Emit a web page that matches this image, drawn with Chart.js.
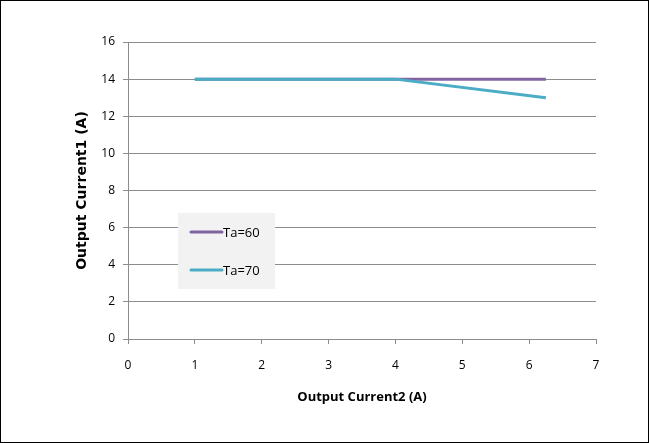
<!DOCTYPE html>
<html>
<head>
<meta charset="utf-8">
<script src="https://cdn.jsdelivr.net/npm/chart.js@4.4.1/dist/chart.umd.min.js"></script>
<style>
	body { margin: 0; background: #fff; }
	#wrap { width: 647px; height: 441px; border: 1px solid #000; position: relative; }
</style>
</head>
<body>
<div id="wrap"><canvas id="currentChart"></canvas></div>
<script>
// values
const xTa60 = [1, 4, 6.25];
const yTa60 = [14, 14, 14];
const xTa70 = [1, 4, 6.25];
const yTa70 = [14, 14, 13];
const seriesLabels = ['Ta=60', 'Ta=70'];
const seriesColors = ['#8064A2', '#4BACC6'];

const fontFamily = "'Open Sans', 'Liberation Sans', sans-serif";
const gridColor = '#8c8c8c';

function toPoints(xs, ys) {
	return xs.map((x, i) => ({ x: x, y: ys[i] }));
}

// legend box sits inside the plot area like the original
const insideLegend = {
	id: 'insideLegend',
	afterDraw(chart) {
		const ctx = chart.ctx;
		const area = chart.chartArea;
		const left = area.left + 50;
		const top = area.top + 171;
		ctx.save();
		ctx.fillStyle = '#f2f2f2';
		ctx.fillRect(left, top, 97, 76);
		ctx.font = '13px ' + fontFamily;
		ctx.textBaseline = 'middle';
		chart.data.datasets.forEach((ds, i) => {
			const y = top + 19 + i * 38;
			ctx.strokeStyle = ds.borderColor;
			ctx.lineWidth = 3;
			ctx.lineCap = 'round';
			ctx.beginPath();
			ctx.moveTo(left + 13, y);
			ctx.lineTo(left + 44, y);
			ctx.stroke();
			ctx.fillStyle = '#000';
			ctx.fillText(ds.label, left + 45, y + 1);
		});
		ctx.restore();
	}
};

const ctx = document.getElementById('currentChart').getContext('2d');
const myChart = new Chart(ctx, {
	type: 'scatter',
	data: {
		datasets: [
			{
				label: seriesLabels[0],
				data: toPoints(xTa60, yTa60),
				showLine: true,
				borderColor: seriesColors[0],
				backgroundColor: seriesColors[0],
				borderWidth: 3,
				pointRadius: 0,
				order: 1
			},
			{
				label: seriesLabels[1],
				data: toPoints(xTa70, yTa70),
				showLine: true,
				borderColor: seriesColors[1],
				backgroundColor: seriesColors[1],
				borderWidth: 3,
				pointRadius: 0,
				order: 0
			}
		]
	},
	options: {
		responsive: true,
		maintainAspectRatio: false,
		animation: false,
		layout: {
			padding: { left: 69, top: 41, right: 52, bottom: 33 }
		},
		plugins: {
			legend: { display: false },
			tooltip: { enabled: false }
		},
		scales: {
			x: {
				type: 'linear',
				min: 0,
				max: 7,
				ticks: { stepSize: 1, color: '#000', padding: 14, font: { family: fontFamily, size: 12 } },
				grid: { drawOnChartArea: false, color: gridColor, tickLength: 5 },
				border: { color: gridColor },
				title: {
					display: true,
					text: 'Output Current2 (A)',
					color: '#000',
					font: { family: fontFamily, size: 13, weight: 'bold' }
				},
				afterFit(scale) { scale.height = 70; }
			},
			y: {
				min: 0,
				max: 16,
				ticks: { stepSize: 2, color: '#000', padding: 8, font: { family: fontFamily, size: 12 } },
				grid: { color: gridColor, tickLength: 5 },
				border: { color: gridColor },
				title: {
					display: true,
					text: 'Output Current1 (A)',
					color: '#000',
					font: { family: "'DejaVu Sans', sans-serif", size: 14, weight: 'bold' }
				},
				afterFit(scale) { scale.width = 58; }
			}
		}
	},
	plugins: [insideLegend]
});
</script>
</body>
</html>
